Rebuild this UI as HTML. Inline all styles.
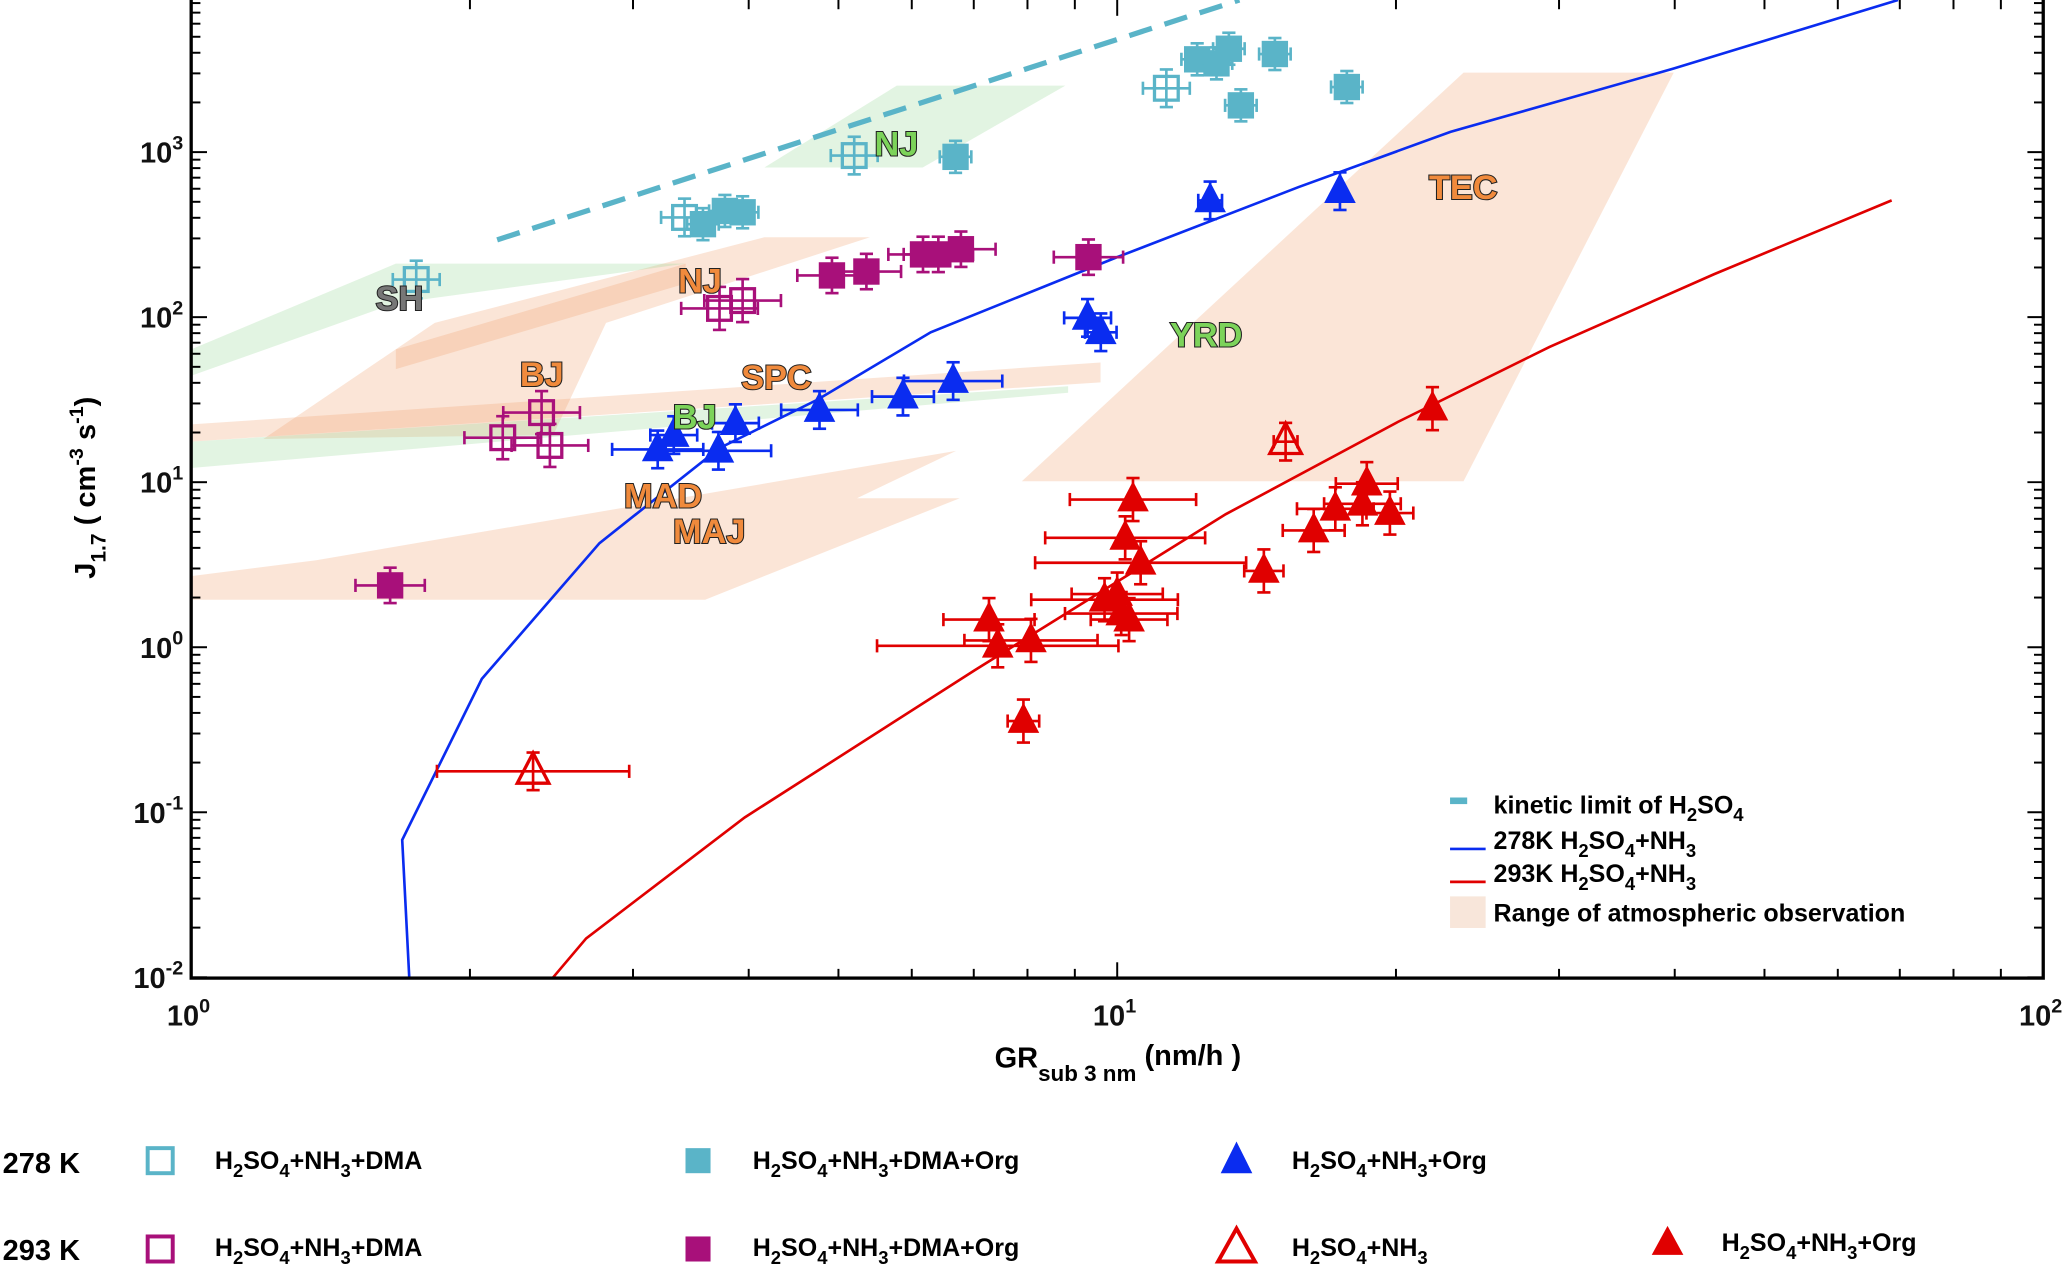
<!DOCTYPE html>
<html><head><meta charset="utf-8"><style>
html,body{margin:0;padding:0;background:#fff;}
svg{display:block;font-family:"Liberation Sans",Arial,sans-serif;}
.lbl{font-weight:bold;font-size:26px;stroke:#222;stroke-width:1.6px;paint-order:stroke;}
.tk{font-size:22px;fill:#111;font-weight:bold;}
.lg{font-size:19px;font-weight:bold;fill:#000;}
</style></head><body>
<svg id="chart" width="2067" height="1271" viewBox="0 0 1568 964.2" xmlns="http://www.w3.org/2000/svg">
<g id="regions"></g>
<g id="curves"></g>
<g id="points"></g>
<g id="axes"></g>
<g>
<text class="lbl" x="303" y="235" fill="#777" text-anchor="middle">SH</text>
<text class="lbl" x="680" y="118" fill="#7cd35a" text-anchor="middle">NJ</text>
<text class="lbl" x="531" y="222" fill="#f08a3c" text-anchor="middle">NJ</text>
<text class="lbl" x="411" y="293" fill="#f08a3c" text-anchor="middle">BJ</text>
<text class="lbl" x="589" y="295" fill="#f08a3c" text-anchor="middle">SPC</text>
<text class="lbl" x="527" y="325" fill="#7cd35a" text-anchor="middle">BJ</text>
<text class="lbl" x="503" y="385" fill="#f08a3c" text-anchor="middle">MAD</text>
<text class="lbl" x="538" y="412" fill="#f08a3c" text-anchor="middle">MAJ</text>
<text class="lbl" x="915" y="263" fill="#7cd35a" text-anchor="middle">YRD</text>
<text class="lbl" x="1110" y="151" fill="#f08a3c" text-anchor="middle">TEC</text>
</g>
<g>
<rect x="1100" y="605" width="13" height="5" fill="#5ab4c8"/>
<text class="lg" x="1133" y="617">kinetic limit of H<tspan font-size="14" dy="6">2</tspan><tspan dy="-6">SO</tspan><tspan font-size="14" dy="6">4</tspan></text>
<line x1="1100" y1="644" x2="1127" y2="644" stroke="#0a2cf0" stroke-width="2"/>
<text class="lg" x="1133" y="644">278K H<tspan font-size="14" dy="6">2</tspan><tspan dy="-6">SO</tspan><tspan font-size="14" dy="6">4</tspan><tspan dy="-6">+NH</tspan><tspan font-size="14" dy="6">3</tspan></text>
<line x1="1100" y1="669" x2="1127" y2="669" stroke="#e00000" stroke-width="2"/>
<text class="lg" x="1133" y="669">293K H<tspan font-size="14" dy="6">2</tspan><tspan dy="-6">SO</tspan><tspan font-size="14" dy="6">4</tspan><tspan dy="-6">+NH</tspan><tspan font-size="14" dy="6">3</tspan></text>
<rect x="1100" y="680" width="27" height="24" fill="#f8e6da"/>
<text class="lg" x="1133" y="699">Range of atmospheric observation</text>
</g>
<text x="848" y="810" text-anchor="middle" font-size="22" font-weight="bold">GR<tspan font-size="17" dy="10">sub 3 nm</tspan><tspan dy="-12"> (nm/h )</tspan></text>
<text transform="translate(72,370) rotate(-90)" text-anchor="middle" font-size="22" font-weight="bold">J<tspan font-size="16" dy="8">1.7</tspan><tspan dy="-8"> ( cm</tspan><tspan font-size="15" dy="-9">-3</tspan><tspan dy="9"> s</tspan><tspan font-size="15" dy="-9">-1</tspan><tspan dy="9">)</tspan></text>
<g>
<text x="2" y="890" font-size="22" font-weight="bold">278 K</text>
<text x="2" y="956" font-size="22" font-weight="bold">293 K</text>
<rect x="112" y="871" width="19" height="19" fill="none" stroke="#5ab4c8" stroke-width="3"/>
<rect x="520" y="871" width="19" height="19" fill="#5ab4c8"/>
<polygon points="938,866 926,890 950,890" fill="#0a2cf0"/>
<rect x="112" y="938" width="19" height="19" fill="none" stroke="#a8107a" stroke-width="3"/>
<rect x="520" y="938" width="19" height="19" fill="#a8107a"/>
<polygon points="938,932 924,957 952,957" fill="none" stroke="#e00000" stroke-width="3"/>
<polygon points="1265,930 1253,952 1277,952" fill="#e00000"/>
<g font-size="19" font-weight="bold">
<text x="163" y="887">H<tspan font-size="14" dy="6">2</tspan><tspan dy="-6">SO</tspan><tspan font-size="14" dy="6">4</tspan><tspan dy="-6">+NH</tspan><tspan font-size="14" dy="6">3</tspan><tspan dy="-6">+DMA</tspan></text>
<text x="571" y="887">H<tspan font-size="14" dy="6">2</tspan><tspan dy="-6">SO</tspan><tspan font-size="14" dy="6">4</tspan><tspan dy="-6">+NH</tspan><tspan font-size="14" dy="6">3</tspan><tspan dy="-6">+DMA+Org</tspan></text>
<text x="980" y="887">H<tspan font-size="14" dy="6">2</tspan><tspan dy="-6">SO</tspan><tspan font-size="14" dy="6">4</tspan><tspan dy="-6">+NH</tspan><tspan font-size="14" dy="6">3</tspan><tspan dy="-6">+Org</tspan></text>
<text x="163" y="953">H<tspan font-size="14" dy="6">2</tspan><tspan dy="-6">SO</tspan><tspan font-size="14" dy="6">4</tspan><tspan dy="-6">+NH</tspan><tspan font-size="14" dy="6">3</tspan><tspan dy="-6">+DMA</tspan></text>
<text x="571" y="953">H<tspan font-size="14" dy="6">2</tspan><tspan dy="-6">SO</tspan><tspan font-size="14" dy="6">4</tspan><tspan dy="-6">+NH</tspan><tspan font-size="14" dy="6">3</tspan><tspan dy="-6">+DMA+Org</tspan></text>
<text x="980" y="953">H<tspan font-size="14" dy="6">2</tspan><tspan dy="-6">SO</tspan><tspan font-size="14" dy="6">4</tspan><tspan dy="-6">+NH</tspan><tspan font-size="14" dy="6">3</tspan></text>
<text x="1306" y="949">H<tspan font-size="14" dy="6">2</tspan><tspan dy="-6">SO</tspan><tspan font-size="14" dy="6">4</tspan><tspan dy="-6">+NH</tspan><tspan font-size="14" dy="6">3</tspan><tspan dy="-6">+Org</tspan></text>
</g>
</g>
</svg>
<script>
// ---- data ----
const xTickValues = [1, 10, 100];
const xTickExps = ["0", "1", "2"];
const yTickValues = [0.01, 0.1, 1, 10, 100, 1000];
const yTickExps = ["-2", "-1", "0", "1", "2", "3"];

const kineticX = [2.14, 13.55];
const kineticY = [294, 8350];
const blue278X = [1.72, 1.69, 2.06, 2.76, 3.72, 4.75, 6.29, 10, 15.7, 22.9, 39.9, 69.7];
const blue278Y = [0.0099, 0.068, 0.643, 4.27, 16.1, 31.7, 81, 231, 614, 1327, 3210, 8350];
const red293X = [2.46, 2.67, 3.96, 7.03, 13.1, 20.1, 29.3, 44.1, 68.6];
const red293Y = [0.01, 0.0172, 0.093, 0.73, 6.4, 23.2, 66, 182, 510];

const cyanOpenX = [1.75, 5.2, 3.41, 11.3];
const cyanOpenY = [169, 953, 402, 2437];
const cyanFillX = [3.57, 3.77, 3.94, 6.69, 12.2, 12.8, 13.2, 13.6, 14.8, 17.7];
const cyanFillY = [366, 440, 432, 936, 3650, 3450, 4230, 1920, 3930, 2480];
const magOpenX = [2.17, 2.39, 2.44, 3.72, 3.94];
const magOpenY = [18.6, 26.4, 16.7, 113, 126];
const magFillX = [1.64, 4.92, 5.36, 6.17, 6.41, 6.78, 9.31];
const magFillY = [2.37, 179, 189, 240, 240, 258, 231];
const blueTriX = [3.19, 3.32, 3.71, 3.87, 4.77, 5.87, 6.65, 9.29, 9.6, 12.6, 17.4];
const blueTriY = [15.8, 19.3, 15.5, 22.8, 27.4, 33, 41, 99, 81, 510, 580];
const redOpenX = [2.34, 15.2];
const redOpenY = [0.177, 17.6];
const redFillX = [10.4, 10.2, 10.6, 14.4, 7.27, 7.43, 8.07, 7.92, 9.69, 10.0, 10.1, 10.3, 16.3, 17.2, 18.6, 18.4, 19.7, 21.9];
const redFillY = [7.85, 4.6, 3.25, 2.9, 1.47, 1.02, 1.1, 0.357, 1.94, 2.1, 1.6, 1.47, 5.1, 6.9, 9.8, 7.4, 6.5, 27.9];
const redFillXErr = [1.17, 1.22, 1.3, 1.05, 1.12, 1.35, 1.18, 1.04, 1.2, 1.12, 1.15, 1.1, 1.08, 1.1, 1.08, 1.1, 1.06, 1.0];
const redOpenXErr = [1.27, 1.03];
const blueTriXErr = [1.12, 1.06, 1.14, 1.06, 1.1, 1.08, 1.13, 1.06, 1.04, 1.03, 1.0];

// observation regions as [log10 GR, log10 J] vertices
const orangeRegions = [
  [[0.897,1.006],[1.374,3.482],[1.601,3.482],[1.374,1.006]],
  [[0,0.431],[0.135,0.527],[0.826,1.19],[0.719,0.903],[0.83,0.903],[0.555,0.288],[0,0.288]],
  [[0,1.35],[0.982,1.725],[0.982,1.605],[0,1.246]],
  [[0.078,1.262],[0.263,1.965],[0.619,2.484],[0.733,2.484],[0.448,1.965],[0.391,1.286]],
  [[0.221,1.805],[0.534,2.324],[0.534,2.204],[0.221,1.685]]
];
const greenRegions = [
  [[0,1.805],[0.221,2.324],[0.534,2.324],[0.221,2.085],[0,1.645]],
  [[0,1.246],[0.947,1.581],[0.947,1.542],[0,1.086]],
  [[0.619,2.907],[0.762,3.403],[0.944,3.403],[0.79,2.907]]
];

// ---- axis functions ----
const L=145,R=1550,B=742,T=0;
function X(v){return L+702.5*Math.log10(v);}
function Y(v){return 491-125.2*Math.log10(v);}
const NS="http://www.w3.org/2000/svg";
function mk(tag,attrs,parent){const e=document.createElementNS(NS,tag);for(const k in attrs)e.setAttribute(k,attrs[k]);parent.appendChild(e);return e;}

const defs=mk('defs',{},document.getElementById('chart'));
const cp=mk('clipPath',{id:'plotclip'},defs);
mk('rect',{x:L,y:T,width:R-L,height:B-T},cp);

const reg=document.getElementById('regions');
reg.setAttribute('clip-path','url(#plotclip)');
orangeRegions.forEach((poly,i)=>{
  const p=mk('polygon',{points:poly.map(q=>X(Math.pow(10,q[0]))+','+Y(Math.pow(10,q[1]))).join(' '),fill:'rgba(240,160,110,0.28)'},reg);
  
  
});
greenRegions.forEach((poly,i)=>{
  const p=mk('polygon',{points:poly.map(q=>X(Math.pow(10,q[0]))+','+Y(Math.pow(10,q[1]))).join(' '),fill:'rgba(150,215,150,0.28)'},reg);
  
  
});

const cur=document.getElementById('curves');
cur.setAttribute('clip-path','url(#plotclip)');
function line(xs,ys,color,name,dash,w){
  const p=mk('polyline',{points:xs.map((x,i)=>X(x)+','+Y(ys[i])).join(' '),fill:'none',stroke:color,'stroke-width':w||2},cur);
  if(dash)p.setAttribute('stroke-dasharray',dash);
  
  
}
line(kineticX,kineticY,'#5ab4c8','kinetic-limit-line','18,10',4);
line(blue278X,blue278Y,'#0a2cf0','line-278k');
line(red293X,red293Y,'#e00000','line-293k');

const pts=document.getElementById('points');
function errbar(g,x,y,xf,yf,color){
  const x1=X(x/xf),x2=X(x*xf),y1=Y(y*yf),y2=Y(y/yf),cx=X(x),cy=Y(y);
  if(xf>1.001){mk('line',{x1:x1,y1:cy,x2:x2,y2:cy,stroke:color,'stroke-width':2},g);
    mk('line',{x1:x1,y1:cy-5,x2:x1,y2:cy+5,stroke:color,'stroke-width':2},g);
    mk('line',{x1:x2,y1:cy-5,x2:x2,y2:cy+5,stroke:color,'stroke-width':2},g);}
  mk('line',{x1:cx,y1:y1,x2:cx,y2:y2,stroke:color,'stroke-width':2},g);
  mk('line',{x1:cx-5,y1:y1,x2:cx+5,y2:y1,stroke:color,'stroke-width':2},g);
  mk('line',{x1:cx-5,y1:y2,x2:cx+5,y2:y2,stroke:color,'stroke-width':2},g);
}
function series(xs,ys,shape,fill,color,name,xf,yf,xerrs){
  xs.forEach((x,i)=>{
    const g=mk('g',{},pts);
    
    
    const y=ys[i];
    errbar(g,x,y,xerrs?xerrs[i]:xf,yf,color);
    const cx=X(x),cy=Y(y);
    if(shape==='sq'){
      if(fill) mk('rect',{x:cx-10,y:cy-10,width:20,height:20,fill:color},g);
      else mk('rect',{x:cx-9,y:cy-9,width:18,height:18,fill:'none',stroke:color,'stroke-width':2.5},g);
    }else{
      const pp=(cx)+','+(cy-14)+' '+(cx-12)+','+(cy+9)+' '+(cx+12)+','+(cy+9);
      if(fill) mk('polygon',{points:pp,fill:color},g);
      else mk('polygon',{points:pp,fill:'none',stroke:color,'stroke-width':2.5},g);
    }
  });
}
series(cyanOpenX,cyanOpenY,'sq',false,'#5ab4c8','cyan-open',1.06,1.3);
series(cyanFillX,cyanFillY,'sq',true,'#5ab4c8','cyan-filled',1.04,1.25);
series(magOpenX,magOpenY,'sq',false,'#a8107a','magenta-open',1.1,1.35);
series(magFillX,magFillY,'sq',true,'#a8107a','magenta-filled',1.09,1.28);
series(blueTriX,blueTriY,'tri',true,'#0a2cf0','blue-triangle',1,1.3,blueTriXErr);
series(redOpenX,redOpenY,'tri',false,'#e00000','red-open-triangle',1,1.3,redOpenXErr);
series(redFillX,redFillY,'tri',true,'#e00000','red-triangle',1,1.35,redFillXErr);

// axes
const ax=document.getElementById('axes');
mk('rect',{x:L,y:T-2,width:R-L,height:B-T+2,fill:'none',stroke:'#000','stroke-width':2.5},ax);
for(let d=0;d<2;d++){for(let m=1;m<10;m++){const v=Math.pow(10,d)*m;const x=X(v);const len=m===1?12:7;
  mk('line',{x1:x,y1:B,x2:x,y2:B-len,stroke:'#000','stroke-width':1.5},ax);
  mk('line',{x1:x,y1:T,x2:x,y2:T+len,stroke:'#000','stroke-width':1.5},ax);}}
for(let d=-2;d<4;d++){for(let m=1;m<10;m++){const v=Math.pow(10,d)*m;const y=Y(v);if(y<T)continue;const len=m===1?12:7;
  mk('line',{x1:L,y1:y,x2:L+len,y2:y,stroke:'#000','stroke-width':1.5},ax);
  mk('line',{x1:R,y1:y,x2:R-len,y2:y,stroke:'#000','stroke-width':1.5},ax);}}
xTickValues.forEach((v,i)=>{
  const t=mk('text',{x:X(v)-2,y:B+36,'text-anchor':'middle','class':'tk'},ax);
  
  
  t.innerHTML='10<tspan font-size="15" dy="-10">'+xTickExps[i]+'</tspan>';
});
yTickValues.forEach((v,i)=>{
  const t=mk('text',{x:L-6,y:Y(v)+8,'text-anchor':'end','class':'tk'},ax);
  
  
  t.innerHTML='10<tspan font-size="15" dy="-10">'+yTickExps[i]+'</tspan>';
});
</script>
</body></html>
